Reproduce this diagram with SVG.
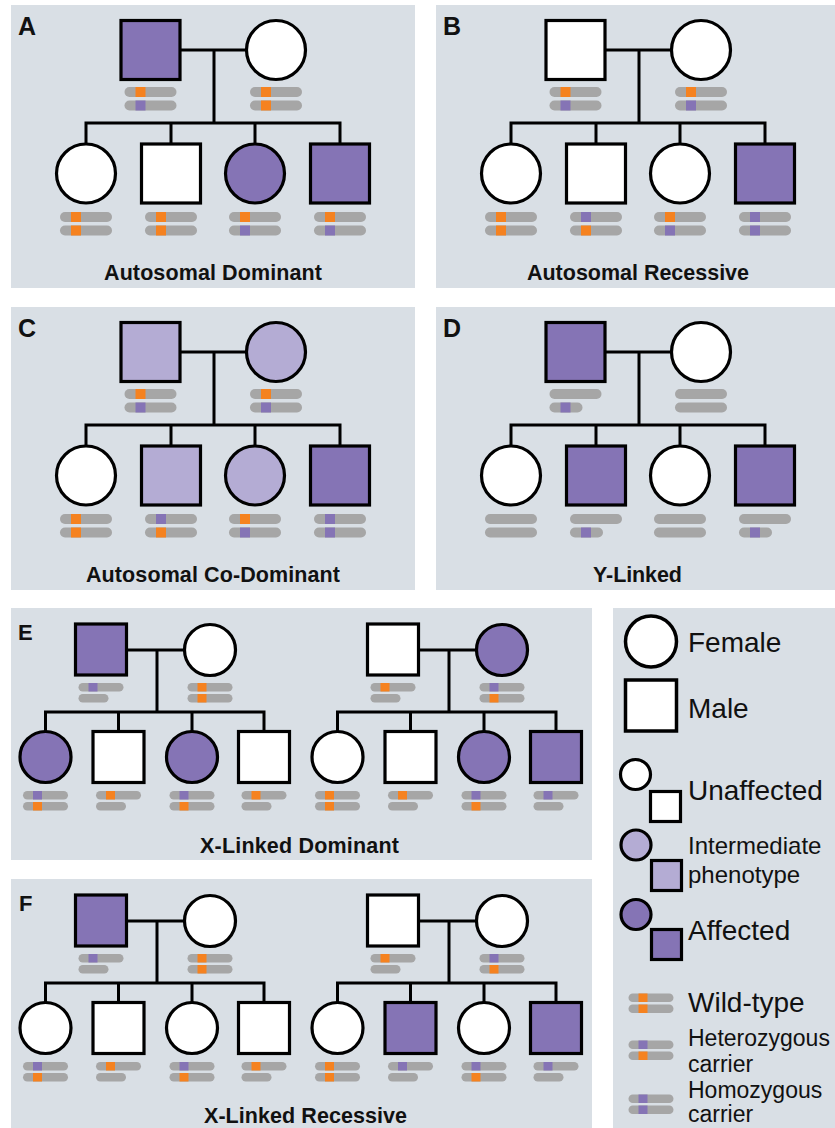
<svg xmlns="http://www.w3.org/2000/svg" xmlns:xlink="http://www.w3.org/1999/xlink" width="835" height="1128" viewBox="0 0 835 1128">
<style>
.bg{fill:#d9dfe5}
.ln{fill:none;stroke:#000;stroke-width:3;stroke-linejoin:miter}
.u{fill:#fff;stroke:#000;stroke-width:3.2}
.a{fill:#8574b5;stroke:#000;stroke-width:3.2}
.i{fill:#b4acd4;stroke:#000;stroke-width:3.2}
.lg{stroke-width:3.5}
.gr{fill:#a6a6a6}
.or{fill:#f58220}
.pu{fill:#8574b5}
.t{font-family:"Liberation Sans",Arial,Helvetica,sans-serif;fill:#111}
.b{font-weight:bold}
</style>
<defs>
<g id="Lo"><rect class="gr" width="52" height="10" rx="5"/><rect class="or" x="11" width="10" height="10"/></g>
<g id="Lp"><rect class="gr" width="52" height="10" rx="5"/><rect class="pu" x="11" width="10" height="10"/></g>
<g id="Ln"><rect class="gr" width="52" height="10" rx="5"/></g>
<g id="Ly"><rect class="gr" width="33" height="10" rx="5"/><rect class="pu" x="11" width="10" height="10"/></g>
<g id="so"><rect class="gr" width="45" height="8.5" rx="4.25"/><rect class="or" x="10" width="9" height="8.5"/></g>
<g id="sp"><rect class="gr" width="45" height="8.5" rx="4.25"/><rect class="pu" x="10" width="9" height="8.5"/></g>
<g id="sy"><rect class="gr" width="30" height="8.5" rx="4.25"/></g>
</defs>

<g id="panels">
<rect class="bg" x="11" y="5" width="404" height="283"/>
<rect class="bg" x="436" y="5" width="399" height="283"/>
<rect class="bg" x="11" y="307" width="404" height="283"/>
<rect class="bg" x="436" y="307" width="399" height="283"/>
<rect class="bg" x="11" y="608" width="581" height="252"/>
<rect class="bg" x="11" y="879" width="581" height="249"/>
<rect class="bg" x="613" y="608" width="222" height="520"/>
</g>

<g id="connectors">
<path class="ln" d="M180,50H247M214,50V123M86,144V123H340V144M171,123V144M255,123V144"/>
<path class="ln" d="M605,50H672M639,50V123M511,144V123H765V144M596,123V144M680,123V144"/>
<path class="ln" d="M180,352H247M214,352V425M86,446V425H340V446M171,425V446M255,425V446"/>
<path class="ln" d="M605,352H672M639,352V425M511,446V425H765V446M596,425V446M680,425V446"/>
<path class="ln" d="M127,650H185M157,650V712M45.5,732V712H264V732M118.5,712V732M192,712V732"/>
<path class="ln" d="M419,650H477M449,650V712M337.5,732V712H556V732M410.5,712V732M484,712V732"/>
<path class="ln" d="M127,921H185M157,921V983M45.5,1003V983H264V1003M118.5,983V1003M192,983V1003"/>
<path class="ln" d="M419,921H477M449,921V983M337.5,1003V983H556V1003M410.5,983V1003M484,983V1003"/>
</g>

<!-- Panel A -->
<g id="A-label"><text class="t b" x="18" y="35" font-size="25">A</text></g>
<g id="A-father"><rect class="a" x="121" y="20.5" width="59" height="59"/><use xlink:href="#Lo" x="124.5" y="87"/><use xlink:href="#Lp" x="124.5" y="100.5"/></g>
<g id="A-mother"><circle class="u" cx="276" cy="50" r="29.5"/><use xlink:href="#Lo" x="250" y="87"/><use xlink:href="#Lo" x="250" y="100.5"/></g>
<g id="A-child1"><circle class="u" cx="86" cy="173.5" r="29.5"/><use xlink:href="#Lo" x="60" y="212"/><use xlink:href="#Lo" x="60" y="225.5"/></g>
<g id="A-child2"><rect class="u" x="141.5" y="144" width="59" height="59"/><use xlink:href="#Lo" x="145" y="212"/><use xlink:href="#Lo" x="145" y="225.5"/></g>
<g id="A-child3"><circle class="a" cx="255" cy="173.5" r="29.5"/><use xlink:href="#Lo" x="229" y="212"/><use xlink:href="#Lp" x="229" y="225.5"/></g>
<g id="A-child4"><rect class="a" x="310.5" y="144" width="59" height="59"/><use xlink:href="#Lo" x="314" y="212"/><use xlink:href="#Lp" x="314" y="225.5"/></g>
<g id="A-title"><text class="t b" x="104" y="280" font-size="21.5" textLength="218" lengthAdjust="spacing">Autosomal Dominant</text></g>

<!-- Panel B -->
<g id="B-label"><text class="t b" x="443" y="35" font-size="25">B</text></g>
<g id="B-father"><rect class="u" x="546" y="20.5" width="59" height="59"/><use xlink:href="#Lo" x="549.5" y="87"/><use xlink:href="#Lp" x="549.5" y="100.5"/></g>
<g id="B-mother"><circle class="u" cx="701" cy="50" r="29.5"/><use xlink:href="#Lo" x="675" y="87"/><use xlink:href="#Lp" x="675" y="100.5"/></g>
<g id="B-child1"><circle class="u" cx="511" cy="173.5" r="29.5"/><use xlink:href="#Lo" x="485" y="212"/><use xlink:href="#Lo" x="485" y="225.5"/></g>
<g id="B-child2"><rect class="u" x="566.5" y="144" width="59" height="59"/><use xlink:href="#Lp" x="570" y="212"/><use xlink:href="#Lo" x="570" y="225.5"/></g>
<g id="B-child3"><circle class="u" cx="680" cy="173.5" r="29.5"/><use xlink:href="#Lo" x="654" y="212"/><use xlink:href="#Lp" x="654" y="225.5"/></g>
<g id="B-child4"><rect class="a" x="735.5" y="144" width="59" height="59"/><use xlink:href="#Lp" x="739" y="212"/><use xlink:href="#Lp" x="739" y="225.5"/></g>
<g id="B-title"><text class="t b" x="527" y="280" font-size="21.5" textLength="222" lengthAdjust="spacing">Autosomal Recessive</text></g>

<!-- Panel C -->
<g id="C-label"><text class="t b" x="18" y="337" font-size="25">C</text></g>
<g id="C-father"><rect class="i" x="121" y="322.5" width="59" height="59"/><use xlink:href="#Lo" x="124.5" y="389"/><use xlink:href="#Lp" x="124.5" y="402.5"/></g>
<g id="C-mother"><circle class="i" cx="276" cy="352" r="29.5"/><use xlink:href="#Lo" x="250" y="389"/><use xlink:href="#Lp" x="250" y="402.5"/></g>
<g id="C-child1"><circle class="u" cx="86" cy="475.5" r="29.5"/><use xlink:href="#Lo" x="60" y="514"/><use xlink:href="#Lo" x="60" y="527.5"/></g>
<g id="C-child2"><rect class="i" x="141.5" y="446" width="59" height="59"/><use xlink:href="#Lp" x="145" y="514"/><use xlink:href="#Lo" x="145" y="527.5"/></g>
<g id="C-child3"><circle class="i" cx="255" cy="475.5" r="29.5"/><use xlink:href="#Lo" x="229" y="514"/><use xlink:href="#Lp" x="229" y="527.5"/></g>
<g id="C-child4"><rect class="a" x="310.5" y="446" width="59" height="59"/><use xlink:href="#Lp" x="314" y="514"/><use xlink:href="#Lp" x="314" y="527.5"/></g>
<g id="C-title"><text class="t b" x="86" y="582" font-size="21.5" textLength="254" lengthAdjust="spacing">Autosomal Co-Dominant</text></g>

<!-- Panel D -->
<g id="D-label"><text class="t b" x="443" y="337" font-size="25">D</text></g>
<g id="D-father"><rect class="a" x="546" y="322.5" width="59" height="59"/><use xlink:href="#Ln" x="549.5" y="389"/><use xlink:href="#Ly" x="549.5" y="402.5"/></g>
<g id="D-mother"><circle class="u" cx="701" cy="352" r="29.5"/><use xlink:href="#Ln" x="675" y="389"/><use xlink:href="#Ln" x="675" y="402.5"/></g>
<g id="D-child1"><circle class="u" cx="511" cy="475.5" r="29.5"/><use xlink:href="#Ln" x="485" y="514"/><use xlink:href="#Ln" x="485" y="527.5"/></g>
<g id="D-child2"><rect class="a" x="566.5" y="446" width="59" height="59"/><use xlink:href="#Ln" x="570" y="514"/><use xlink:href="#Ly" x="570" y="527.5"/></g>
<g id="D-child3"><circle class="u" cx="680" cy="475.5" r="29.5"/><use xlink:href="#Ln" x="654" y="514"/><use xlink:href="#Ln" x="654" y="527.5"/></g>
<g id="D-child4"><rect class="a" x="735.5" y="446" width="59" height="59"/><use xlink:href="#Ln" x="739" y="514"/><use xlink:href="#Ly" x="739" y="527.5"/></g>
<g id="D-title"><text class="t b" x="593" y="582" font-size="21.5" textLength="89" lengthAdjust="spacing">Y-Linked</text></g>

<!-- Panel E -->
<g id="E-label"><text class="t b" x="18" y="640" font-size="22">E</text></g>
<g id="E1-father"><rect class="a" x="75.5" y="624" width="51" height="51"/><use xlink:href="#sp" x="78.5" y="683"/><use xlink:href="#sy" x="78.5" y="694"/></g>
<g id="E1-mother"><circle class="u" cx="210" cy="650" r="25.5"/><use xlink:href="#so" x="187.5" y="683"/><use xlink:href="#so" x="187.5" y="694"/></g>
<g id="E1-child1"><circle class="a" cx="45.5" cy="757" r="25.5"/><use xlink:href="#sp" x="23" y="791"/><use xlink:href="#so" x="23" y="802"/></g>
<g id="E1-child2"><rect class="u" x="93" y="731.5" width="51" height="51"/><use xlink:href="#so" x="96" y="791"/><use xlink:href="#sy" x="96" y="802"/></g>
<g id="E1-child3"><circle class="a" cx="192" cy="757" r="25.5"/><use xlink:href="#sp" x="169.5" y="791"/><use xlink:href="#so" x="169.5" y="802"/></g>
<g id="E1-child4"><rect class="u" x="238.5" y="731.5" width="51" height="51"/><use xlink:href="#so" x="241.5" y="791"/><use xlink:href="#sy" x="241.5" y="802"/></g>
<g id="E2-father"><rect class="u" x="367.5" y="624" width="51" height="51"/><use xlink:href="#so" x="370.5" y="683"/><use xlink:href="#sy" x="370.5" y="694"/></g>
<g id="E2-mother"><circle class="a" cx="502" cy="650" r="25.5"/><use xlink:href="#sp" x="479.5" y="683"/><use xlink:href="#so" x="479.5" y="694"/></g>
<g id="E2-child1"><circle class="u" cx="337.5" cy="757" r="25.5"/><use xlink:href="#so" x="315" y="791"/><use xlink:href="#so" x="315" y="802"/></g>
<g id="E2-child2"><rect class="u" x="385" y="731.5" width="51" height="51"/><use xlink:href="#so" x="388" y="791"/><use xlink:href="#sy" x="388" y="802"/></g>
<g id="E2-child3"><circle class="a" cx="484" cy="757" r="25.5"/><use xlink:href="#sp" x="461.5" y="791"/><use xlink:href="#so" x="461.5" y="802"/></g>
<g id="E2-child4"><rect class="a" x="530.5" y="731.5" width="51" height="51"/><use xlink:href="#sp" x="533.5" y="791"/><use xlink:href="#sy" x="533.5" y="802"/></g>
<g id="E-title"><text class="t b" x="200" y="853" font-size="21.5" textLength="199" lengthAdjust="spacing">X-Linked Dominant</text></g>

<!-- Panel F -->
<g id="F-label"><text class="t b" x="19" y="911" font-size="22">F</text></g>
<g id="F1-father"><rect class="a" x="75.5" y="895" width="51" height="51"/><use xlink:href="#sp" x="78.5" y="954"/><use xlink:href="#sy" x="78.5" y="965"/></g>
<g id="F1-mother"><circle class="u" cx="210" cy="921" r="25.5"/><use xlink:href="#so" x="187.5" y="954"/><use xlink:href="#so" x="187.5" y="965"/></g>
<g id="F1-child1"><circle class="u" cx="45.5" cy="1028" r="25.5"/><use xlink:href="#sp" x="23" y="1062"/><use xlink:href="#so" x="23" y="1073"/></g>
<g id="F1-child2"><rect class="u" x="93" y="1002.5" width="51" height="51"/><use xlink:href="#so" x="96" y="1062"/><use xlink:href="#sy" x="96" y="1073"/></g>
<g id="F1-child3"><circle class="u" cx="192" cy="1028" r="25.5"/><use xlink:href="#sp" x="169.5" y="1062"/><use xlink:href="#so" x="169.5" y="1073"/></g>
<g id="F1-child4"><rect class="u" x="238.5" y="1002.5" width="51" height="51"/><use xlink:href="#so" x="241.5" y="1062"/><use xlink:href="#sy" x="241.5" y="1073"/></g>
<g id="F2-father"><rect class="u" x="367.5" y="895" width="51" height="51"/><use xlink:href="#so" x="370.5" y="954"/><use xlink:href="#sy" x="370.5" y="965"/></g>
<g id="F2-mother"><circle class="u" cx="502" cy="921" r="25.5"/><use xlink:href="#sp" x="479.5" y="954"/><use xlink:href="#so" x="479.5" y="965"/></g>
<g id="F2-child1"><circle class="u" cx="337.5" cy="1028" r="25.5"/><use xlink:href="#so" x="315" y="1062"/><use xlink:href="#so" x="315" y="1073"/></g>
<g id="F2-child2"><rect class="a" x="385" y="1002.5" width="51" height="51"/><use xlink:href="#sp" x="388" y="1062"/><use xlink:href="#sy" x="388" y="1073"/></g>
<g id="F2-child3"><circle class="u" cx="484" cy="1028" r="25.5"/><use xlink:href="#sp" x="461.5" y="1062"/><use xlink:href="#so" x="461.5" y="1073"/></g>
<g id="F2-child4"><rect class="a" x="530.5" y="1002.5" width="51" height="51"/><use xlink:href="#sp" x="533.5" y="1062"/><use xlink:href="#sy" x="533.5" y="1073"/></g>
<g id="F-title"><text class="t b" x="204" y="1123" font-size="21.5" textLength="203" lengthAdjust="spacing">X-Linked Recessive</text></g>

<!-- Legend -->
<g id="legend-female"><circle class="u lg" cx="651" cy="641.5" r="25.5"/><text class="t" x="688" y="652" font-size="28">Female</text></g>
<g id="legend-male"><rect class="u lg" x="625.5" y="680" width="51" height="51"/><text class="t" x="688" y="718" font-size="28">Male</text></g>
<g id="legend-unaffected"><circle class="u" cx="635.5" cy="774.5" r="15"/><rect class="u" x="650.5" y="791.5" width="30" height="30"/><text class="t" x="688" y="800" font-size="28">Unaffected</text></g>
<g id="legend-intermediate"><circle class="i" cx="636" cy="845" r="15"/><rect class="i" x="651.5" y="860.5" width="30" height="30"/><text class="t" x="688" y="854" font-size="24">Intermediate</text><text class="t" x="688" y="883" font-size="24">phenotype</text></g>
<g id="legend-affected"><circle class="a" cx="636" cy="914.5" r="15"/><rect class="a" x="651.5" y="929.5" width="30" height="30"/><text class="t" x="688" y="940" font-size="28">Affected</text></g>
<g id="legend-wildtype"><use xlink:href="#so" x="628.5" y="993.5"/><use xlink:href="#so" x="628.5" y="1004.5"/><text class="t" x="688" y="1012" font-size="28">Wild-type</text></g>
<g id="legend-het"><use xlink:href="#sp" x="628.5" y="1040.5"/><use xlink:href="#so" x="628.5" y="1051.5"/><text class="t" x="688" y="1046" font-size="23">Heterozygous</text><text class="t" x="688" y="1072" font-size="23">carrier</text></g>
<g id="legend-hom"><use xlink:href="#sp" x="628.5" y="1094.5"/><use xlink:href="#sp" x="628.5" y="1105.5"/><text class="t" x="688" y="1098" font-size="23">Homozygous</text><text class="t" x="688" y="1122" font-size="23">carrier</text></g>
</svg>
